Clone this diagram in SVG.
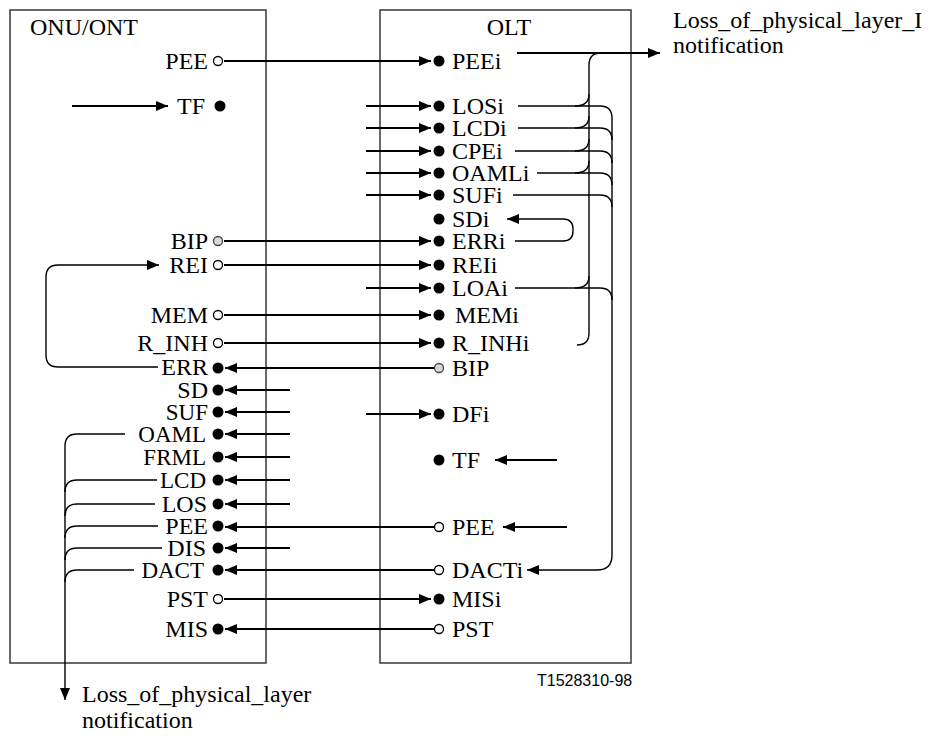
<svg xmlns="http://www.w3.org/2000/svg" width="932" height="736" viewBox="0 0 932 736">
<style>
.t{font-family:"Liberation Serif","Times New Roman",serif;font-size:24px;fill:#000}
.s{font-size:23px}
.e{text-anchor:end}
.m{text-anchor:middle}
.lbl{font-family:"Liberation Sans",Arial,sans-serif;font-size:16px;fill:#000}
.box{fill:#fff;stroke:#444;stroke-width:1.6}
.ln{fill:none;stroke:#000;stroke-width:2}
.th{fill:none;stroke:#000;stroke-width:1.4}
.f{fill:#000}
.o{fill:#fff;stroke:#000;stroke-width:1.3}
.g{fill:#d9d9d9;stroke:#444;stroke-width:1.3}
</style>
<defs>
<marker id="ah" viewBox="0 0 12 10" refX="12" refY="5" markerWidth="12" markerHeight="10" orient="auto" markerUnits="userSpaceOnUse"><path d="M0,0 L12,5 L0,10 z" fill="#000"/></marker>
</defs>
<rect width="932" height="736" fill="#fff"/>

<g id="onu">
<rect class="box" x="10" y="10" width="256" height="653"/>
<text class="t" x="30" y="35">ONU/ONT</text>
<g id="onu-pee-out"><text class="t e" x="208" y="69">PEE</text><circle class="o" cx="218" cy="61" r="4.5"/></g>
<g id="onu-tf"><text class="t e" x="205" y="114">TF</text><circle class="f" cx="220" cy="106" r="5.5"/></g>
<g id="onu-bip"><text class="t e" x="208" y="249">BIP</text><circle class="g" cx="218" cy="241" r="4.5"/></g>
<g id="onu-rei"><text class="t e" x="208" y="273">REI</text><circle class="o" cx="218" cy="265" r="4.5"/></g>
<g id="onu-mem"><text class="t e" x="208" y="323">MEM</text><circle class="o" cx="218" cy="315" r="4.5"/></g>
<g id="onu-rinh"><text class="t e" x="208" y="351">R_INH</text><circle class="o" cx="218" cy="343" r="4.5"/></g>
<g id="onu-err"><text class="t e" x="208" y="375">ERR</text><circle class="f" cx="218" cy="368" r="5.5"/></g>
<g id="onu-sd"><text class="t e" x="208" y="398">SD</text><circle class="f" cx="218" cy="390" r="5.5"/></g>
<g id="onu-suf"><text class="t s e" x="208" y="420">SUF</text><circle class="f" cx="218" cy="412" r="5.5"/></g>
<g id="onu-oaml"><text class="t s e" x="206" y="442">OAML</text><circle class="f" cx="218" cy="434" r="5.5"/></g>
<g id="onu-frml"><text class="t s e" x="206" y="465">FRML</text><circle class="f" cx="218" cy="457" r="5.5"/></g>
<g id="onu-lcd"><text class="t s e" x="206" y="488">LCD</text><circle class="f" cx="218" cy="480" r="5.5"/></g>
<g id="onu-los"><text class="t e" x="207" y="512">LOS</text><circle class="f" cx="218" cy="504" r="5.5"/></g>
<g id="onu-pee-in"><text class="t e" x="208" y="534">PEE</text><circle class="f" cx="218" cy="526" r="5.5"/></g>
<g id="onu-dis"><text class="t e" x="206" y="556">DIS</text><circle class="f" cx="218" cy="548" r="5.5"/></g>
<g id="onu-dact"><text class="t s e" x="204" y="578">DACT</text><circle class="f" cx="218" cy="570" r="5.5"/></g>
<g id="onu-pst"><text class="t e" x="208" y="607">PST</text><circle class="o" cx="218" cy="599" r="4.5"/></g>
<g id="onu-mis"><text class="t e" x="208" y="637">MIS</text><circle class="f" cx="218" cy="629" r="5.5"/></g>
</g>

<g id="olt">
<rect class="box" x="380" y="10" width="251" height="653"/>
<text class="t m" x="509" y="35">OLT</text>
<g id="olt-peei"><circle class="f" cx="439" cy="61" r="5.5"/><text class="t" x="452" y="69">PEEi</text></g>
<g id="olt-losi"><circle class="f" cx="439" cy="106" r="5.5"/><text class="t" x="452" y="114">LOSi</text></g>
<g id="olt-lcdi"><circle class="f" cx="439" cy="128" r="5.5"/><text class="t" x="452" y="136">LCDi</text></g>
<g id="olt-cpei"><circle class="f" cx="439" cy="151" r="5.5"/><text class="t" x="452" y="159">CPEi</text></g>
<g id="olt-oamli"><circle class="f" cx="439" cy="173" r="5.5"/><text class="t" x="452" y="181">OAMLi</text></g>
<g id="olt-sufi"><circle class="f" cx="439" cy="195" r="5.5"/><text class="t" x="452" y="203">SUFi</text></g>
<g id="olt-sdi"><circle class="f" cx="439" cy="219" r="5.5"/><text class="t" x="452" y="227">SDi</text></g>
<g id="olt-erri"><circle class="f" cx="439" cy="241" r="5.5"/><text class="t" x="452" y="249">ERRi</text></g>
<g id="olt-reii"><circle class="f" cx="439" cy="265" r="5.5"/><text class="t" x="452" y="273">REIi</text></g>
<g id="olt-loai"><circle class="f" cx="439" cy="288" r="5.5"/><text class="t" x="452" y="296">LOAi</text></g>
<g id="olt-memi"><circle class="f" cx="439" cy="315" r="5.5"/><text class="t" x="455" y="323">MEMi</text></g>
<g id="olt-rinhi"><circle class="f" cx="439" cy="343" r="5.5"/><text class="t" x="452" y="351">R_INHi</text></g>
<g id="olt-bip"><circle class="g" cx="439" cy="368" r="4.5"/><text class="t" x="452" y="376">BIP</text></g>
<g id="olt-dfi"><circle class="f" cx="439" cy="414" r="5.5"/><text class="t" x="452" y="422">DFi</text></g>
<g id="olt-tf"><circle class="f" cx="439" cy="460" r="5.5"/><text class="t" x="452" y="468">TF</text></g>
<g id="olt-pee"><circle class="o" cx="439" cy="527" r="4.5"/><text class="t" x="452" y="535">PEE</text></g>
<g id="olt-dacti"><circle class="o" cx="439" cy="570" r="4.5"/><text class="t" x="452" y="578">DACTi</text></g>
<g id="olt-misi"><circle class="f" cx="439" cy="599" r="5.5"/><text class="t" x="452" y="607">MISi</text></g>
<g id="olt-pst"><circle class="o" cx="439" cy="629" r="4.5"/><text class="t" x="452" y="637">PST</text></g>
</g>

<g id="note-olt"><text class="t" x="673" y="28">Loss_of_physical_layer_I</text><text class="t" x="673" y="53">notification</text></g>
<g id="note-onu"><text class="t" x="82" y="702">Loss_of_physical_layer</text><text class="t" x="82" y="728">notification</text></g>
<g id="ref"><text class="lbl" x="537" y="686">T1528310-98</text></g>

<g id="connectors">
<g class="ln" marker-end="url(#ah)">
<path d="M224,61 H431"/>
<path d="M224,241 H431"/>
<path d="M224,265 H431"/>
<path d="M224,315 H431"/>
<path d="M224,343 H431"/>
<path d="M224,599 H431"/>
<path d="M434,368 H225"/>
<path d="M434,527 H225"/>
<path d="M434,570 H225"/>
<path d="M434,629 H225"/>
<path d="M290,390 H225"/>
<path d="M290,412 H225"/>
<path d="M290,434 H225"/>
<path d="M290,457 H225"/>
<path d="M290,480 H225"/>
<path d="M290,504 H225"/>
<path d="M290,548 H225"/>
<path d="M72,106 H168"/>
<path d="M366,106 H431"/>
<path d="M366,128 H431"/>
<path d="M366,151 H431"/>
<path d="M366,173 H431"/>
<path d="M366,195 H431"/>
<path d="M366,288 H431"/>
<path d="M366,414 H431"/>
<path d="M557,460 H495"/>
<path d="M567,527 H503"/>
<path d="M517,53 H660"/>
</g>
<g class="th">
<path d="M158,367 H58 Q46,367 46,355 V277 Q46,265 58,265 H159" marker-end="url(#ah)"/>
<path d="M125,434 H77 Q65,434 65,446 V700" marker-end="url(#ah)"/>
<path d="M157,480 H77 Q65,480 65,492"/>
<path d="M155,504 H77 Q65,504 65,516"/>
<path d="M158,526 H77 Q65,526 65,538"/>
<path d="M162,548 H77 Q65,548 65,560"/>
<path d="M134,570 H77 Q65,570 65,582"/>
<path d="M577,345 Q589,345 589,333 V65 Q589,53 601,53"/>
<path d="M575,106 Q589,106 589,94"/>
<path d="M575,128 Q589,128 589,116"/>
<path d="M575,151 Q589,151 589,139"/>
<path d="M575,173 Q589,173 589,161"/>
<path d="M575,288 Q589,288 589,276"/>
<path d="M518,106 H600 Q612,106 612,118 V555 Q612,570 597,570 H527" marker-end="url(#ah)"/>
<path d="M518,128 H600 Q612,128 612,140"/>
<path d="M515,151 H600 Q612,151 612,163"/>
<path d="M537,173 H600 Q612,173 612,185"/>
<path d="M513,195 H600 Q612,195 612,207"/>
<path d="M515,288 H600 Q612,288 612,300"/>
<path d="M515,241 H563 Q573,241 573,231 V229 Q573,219 563,219 H507" marker-end="url(#ah)"/>
</g>
</g>
</svg>
